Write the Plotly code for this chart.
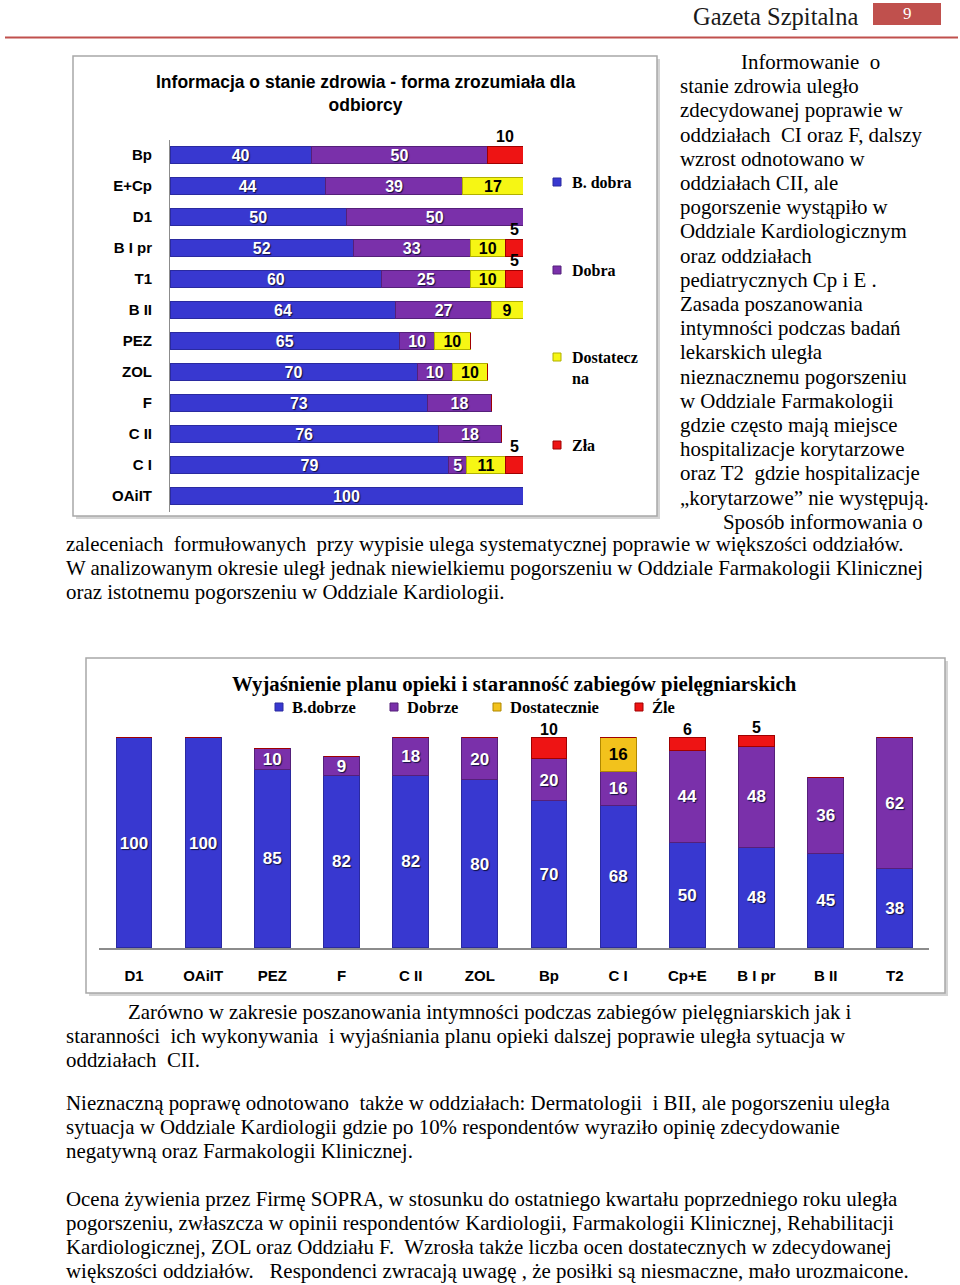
import plotly.graph_objects as go

W, H = 960, 1285

# ---------------- data ----------------
cats1 = ["Bp", "E+Cp", "D1", "B I pr", "T1", "B II", "PEZ", "ZOL", "F", "C II", "C I", "OAiIT"]
bdobra1 = [40, 44, 50, 52, 60, 64, 65, 70, 73, 76, 79, 100]
dobra1 = [50, 39, 50, 33, 25, 27, 10, 10, 18, 18, 5, 0]
dost1 = [0, 17, 0, 10, 10, 9, 10, 10, 0, 0, 11, 0]
zla1 = [10, 0, 0, 5, 5, 0, 0, 0, 0, 0, 5, 0]
names1 = ["B. dobra", "Dobra", "Dostatecz<br>na", "Zła"]
title1 = "Informacja o stanie zdrowia - forma zrozumiała dla<br>odbiorcy"

cats2 = ["D1", "OAiIT", "PEZ", "F", "C II", "ZOL", "Bp", "C I", "Cp+E", "B I pr", "B II", "T2"]
bd2 = [100, 100, 85, 82, 82, 80, 70, 68, 50, 48, 45, 38]
d2 = [0, 0, 10, 9, 18, 20, 20, 16, 44, 48, 36, 62]
dost2 = [0, 0, 0, 0, 0, 0, 0, 16, 0, 0, 0, 0]
zle2 = [0, 0, 0, 0, 0, 0, 10, 0, 6, 5, 0, 0]
names2 = ["B.dobrze", "Dobrze", "Dostatecznie", "Źle"]
title2 = "Wyjaśnienie planu opieki i staranność zabiegów pielęgniarskich"

header = "Gazeta Szpitalna"
page_no = "9"

right_col = [
    "Informowanie  o",
    "stanie zdrowia uległo",
    "zdecydowanej poprawie w",
    "oddziałach  CI oraz F, dalszy",
    "wzrost odnotowano w",
    "oddziałach CII, ale",
    "pogorszenie wystąpiło w",
    "Oddziale Kardiologicznym",
    "oraz oddziałach",
    "pediatrycznych Cp i E .",
    "Zasada poszanowania",
    "intymności podczas badań",
    "lekarskich uległa",
    "nieznacznemu pogorszeniu",
    "w Oddziale Farmakologii",
    "gdzie często mają miejsce",
    "hospitalizacje korytarzowe",
    "oraz T2  gdzie hospitalizacje",
    "„korytarzowe” nie występują.",
    "Sposób informowania o",
]
para1 = [
    "zaleceniach  formułowanych  przy wypisie ulega systematycznej poprawie w większości oddziałów.",
    "W analizowanym okresie uległ jednak niewielkiemu pogorszeniu w Oddziale Farmakologii Klinicznej",
    "oraz istotnemu pogorszeniu w Oddziale Kardiologii.",
]
para2 = [
    "Zarówno w zakresie poszanowania intymności podczas zabiegów pielęgniarskich jak i",
    "staranności  ich wykonywania  i wyjaśniania planu opieki dalszej poprawie uległa sytuacja w",
    "oddziałach  CII.",
]
para3 = [
    "Nieznaczną poprawę odnotowano  także w oddziałach: Dermatologii  i BII, ale pogorszeniu uległa",
    "sytuacja w Oddziale Kardiologii gdzie po 10% respondentów wyraziło opinię zdecydowanie",
    "negatywną oraz Farmakologii Klinicznej.",
]
para4 = [
    "Ocena żywienia przez Firmę SOPRA, w stosunku do ostatniego kwartału poprzedniego roku uległa",
    "pogorszeniu, zwłaszcza w opinii respondentów Kardiologii, Farmakologii Klinicznej, Rehabilitacji",
    "Kardiologicznej, ZOL oraz Oddziału F.  Wzrosła także liczba ocen dostatecznych w zdecydowanej",
    "większości oddziałów.   Respondenci zwracają uwagę , że posiłki są niesmaczne, mało urozmaicone.",
]


# ---------------- helpers ----------------
def px(x):
    return x / W


def py(y):
    return 1 - y / H


BLUE, BLUE_L = "#3838d0", "#2a2aa0"
PURPLE, PURPLE_L = "#7a30aa", "#55207a"
YELLOW, YELLOW_L = "#f6f614", "#b0b000"
GOLD, GOLD_L = "#f2c21c", "#b08800"
RED, RED_L = "#ee1414", "#a00000"

SERIF = "Liberation Serif, Times New Roman, serif"
NARROW = "Liberation Sans Narrow, Arial Narrow, Liberation Sans, Arial, sans-serif"
SANS = "Liberation Sans, Arial, sans-serif"


def labels(vals):
    return [str(v) if v else "" for v in vals]


def white_font(size):
    return dict(family=SANS, size=size, color="white", weight="bold",
                shadow="1px 1px 1px #101040")


def black_font(size):
    return dict(family=SANS, size=size, color="black", weight="bold")


fig = go.Figure()

# ---------------- chart 1 (horizontal stacked) ----------------
series1 = [
    (names1[0], bdobra1, BLUE, BLUE_L, white_font(16), True),
    (names1[1], dobra1, PURPLE, PURPLE_L, white_font(16), True),
    (names1[2], dost1, YELLOW, YELLOW_L, black_font(16), True),
    (names1[3], zla1, RED, RED_L, black_font(16), False),
]
for name, vals, col, lcol, tf, inside in series1:
    fig.add_trace(go.Bar(
        y=cats1, x=vals, orientation="h", name=name,
        xaxis="x", yaxis="y",
        marker=dict(color=col, line=dict(color=lcol, width=1)),
        text=labels(vals) if inside else None,
        textposition="inside", insidetextanchor="middle", textangle=0,
        constraintext="none",
        textfont=tf, width=0.52, showlegend=False, hoverinfo="skip",
    ))

annotations = []
# red outside labels (chart 1)
for i, c in enumerate(cats1):
    if zla1[i]:
        start = bdobra1[i] + dobra1[i] + dost1[i]
        annotations.append(dict(
            x=start + zla1[i] / 2, y=c, xref="x", yref="y",
            text=str(zla1[i]), showarrow=False, yshift=19,
            font=dict(family=SANS, size=16, color="black", weight="bold"),
        ))

# ---------------- chart 2 (vertical stacked) ----------------
series2 = [
    (names2[0], bd2, BLUE, BLUE_L, white_font(17), True),
    (names2[1], d2, PURPLE, PURPLE_L, white_font(17), True),
    (names2[2], dost2, GOLD, GOLD_L, black_font(17), True),
    (names2[3], zle2, RED, RED_L, black_font(17), False),
]
for name, vals, col, lcol, tf, inside in series2:
    fig.add_trace(go.Bar(
        x=cats2, y=vals, name=name,
        xaxis="x2", yaxis="y2",
        marker=dict(color=col, line=dict(color=lcol, width=1)),
        text=labels(vals) if inside else None,
        textposition="inside", insidetextanchor="middle", textangle=0,
        constraintext="none",
        textfont=tf, width=0.52, showlegend=False, hoverinfo="skip",
    ))

for i, c in enumerate(cats2):
    if zle2[i]:
        total = bd2[i] + d2[i] + dost2[i] + zle2[i]
        annotations.append(dict(
            x=c, y=total, xref="x2", yref="y2", yanchor="bottom",
            text=str(zle2[i]), showarrow=False, yshift=-2,
            font=dict(family=SANS, size=16, color="black", weight="bold"),
        ))

# ---------------- titles / legends ----------------
annotations.append(dict(
    x=px(365), y=py(94), xref="paper", yref="paper", xanchor="center", yanchor="middle",
    text=title1, showarrow=False, align="center",
    font=dict(family=NARROW, size=17.5, color="black", weight="bold"),
))
annotations.append(dict(
    x=px(514), y=py(684), xref="paper", yref="paper", xanchor="center", yanchor="middle",
    text=title2, showarrow=False,
    font=dict(family=SERIF, size=20.8, color="black", weight="bold"),
))

shapes = []
leg1_y = [182, 270, 357, 445]
leg_cols = [BLUE, PURPLE, YELLOW, RED]
leg_lcols = [BLUE_L, PURPLE_L, YELLOW_L, RED_L]
for k in range(4):
    shapes.append(dict(type="rect", xref="paper", yref="paper",
                       x0=px(553), x1=px(561), y0=py(leg1_y[k] - 4), y1=py(leg1_y[k] + 4),
                       fillcolor=leg_cols[k], line=dict(color=leg_lcols[k], width=1)))
    annotations.append(dict(
        x=px(570), y=py(leg1_y[k] - 10), xref="paper", yref="paper",
        xanchor="left", yanchor="top", align="left",
        text=names1[k], showarrow=False,
        font=dict(family=SERIF, size=16, color="black", weight="bold"),
    ))

leg2_x = [279, 394, 497, 639]
leg2_cols = [BLUE, PURPLE, GOLD, RED]
leg2_lcols = [BLUE_L, PURPLE_L, GOLD_L, RED_L]
for k in range(4):
    shapes.append(dict(type="rect", xref="paper", yref="paper",
                       x0=px(leg2_x[k] - 4), x1=px(leg2_x[k] + 4), y0=py(711), y1=py(703),
                       fillcolor=leg2_cols[k], line=dict(color=leg2_lcols[k], width=1)))
    annotations.append(dict(
        x=px(leg2_x[k] + 11), y=py(707), xref="paper", yref="paper",
        xanchor="left", yanchor="middle",
        text=names2[k], showarrow=False,
        font=dict(family=SERIF, size=16.5, color="black", weight="bold"),
    ))

# ---------------- chart frames ----------------
for (x0, y0, x1, y1) in [(73, 56, 657, 516), (86, 658, 945, 993)]:
    shapes.append(dict(type="rect", xref="paper", yref="paper",
                       x0=px(x0 + 3), x1=px(x1 + 3), y0=py(y0 + 3), y1=py(y1 + 3),
                       fillcolor="#d4d4d4", line=dict(width=0), layer="below"))
    shapes.append(dict(type="rect", xref="paper", yref="paper",
                       x0=px(x0), x1=px(x1), y0=py(y0), y1=py(y1),
                       fillcolor="white", line=dict(color="#a8a8a8", width=1.5), layer="below"))

# ---------------- header ----------------
shapes.append(dict(type="line", xref="paper", yref="paper",
                   x0=px(5), x1=px(958), y0=py(37.5), y1=py(37.5),
                   line=dict(color="#c0504d", width=2)))
shapes.append(dict(type="rect", xref="paper", yref="paper",
                   x0=px(873), x1=px(941), y0=py(3), y1=py(25),
                   fillcolor="#c0504d", line=dict(width=0)))
annotations.append(dict(
    x=px(691), y=py(17), xref="paper", yref="paper", xanchor="left", yanchor="middle",
    text=header, showarrow=False,
    font=dict(family=SERIF, size=24.5, color="#1a1a1a"),
))
annotations.append(dict(
    x=px(907), y=py(14), xref="paper", yref="paper", xanchor="center", yanchor="middle",
    text=page_no, showarrow=False,
    font=dict(family=SERIF, size=17, color="white"),
))

# ---------------- body text ----------------
TXT = dict(family=SERIF, size=20.9, color="black")


def add_line(text, x, y):
    annotations.append(dict(
        x=px(x), y=py(y), xref="paper", yref="paper", xanchor="left", yanchor="middle",
        text=text, showarrow=False, font=TXT,
    ))


for k, line in enumerate(right_col):
    x = 678
    if k == 0:
        x = 739
    elif k == len(right_col) - 1:
        x = 721
    add_line(line, x, 62 + 24.2 * k)

for k, line in enumerate(para1):
    add_line(line, 64, 544 + 24 * k)
for k, line in enumerate(para2):
    add_line(line, 126 if k == 0 else 64, 1012 + 24 * k)
for k, line in enumerate(para3):
    add_line(line, 64, 1103 + 24 * k)
for k, line in enumerate(para4):
    add_line(line, 64, 1199 + 24 * k)

# ---------------- layout ----------------
fig.update_layout(
    width=W, height=H, margin=dict(l=0, r=0, t=0, b=0),
    paper_bgcolor="white", plot_bgcolor="rgba(0,0,0,0)",
    barmode="stack", bargap=0.48,
    showlegend=False,
    xaxis=dict(domain=[px(170), px(523)], range=[0, 100], anchor="y",
               visible=False, fixedrange=True),
    yaxis=dict(domain=[py(511.5), py(139.5)], anchor="x", type="category",
               categoryorder="array", categoryarray=cats1,
               range=[11.5, -0.5], showgrid=False, zeroline=False,
               showline=True, linecolor="#8c8c8c", linewidth=1,
               ticks="", ticklabelstandoff=14,
               tickfont=dict(family=NARROW, size=15, color="black", weight="bold")),
    xaxis2=dict(domain=[px(99.4), px(929.4)], anchor="y2", type="category",
                categoryorder="array", categoryarray=cats2, range=[-0.5, 11.5],
                showgrid=False, zeroline=False, showline=True,
                linecolor="#8c8c8c", linewidth=1.5, ticks="", ticklabelstandoff=13,
                tickfont=dict(family=NARROW, size=15, color="black", weight="bold")),
    yaxis2=dict(domain=[py(948), py(734.85)], anchor="x2", range=[0, 101.5],
                visible=False, fixedrange=True),
    annotations=annotations,
    shapes=shapes,
)
for tr in fig.data:
    tr.cliponaxis = False

fig.write_html("out.html", config={"displayModeBar": False},
               post_script="document.body.style.margin='0';")
